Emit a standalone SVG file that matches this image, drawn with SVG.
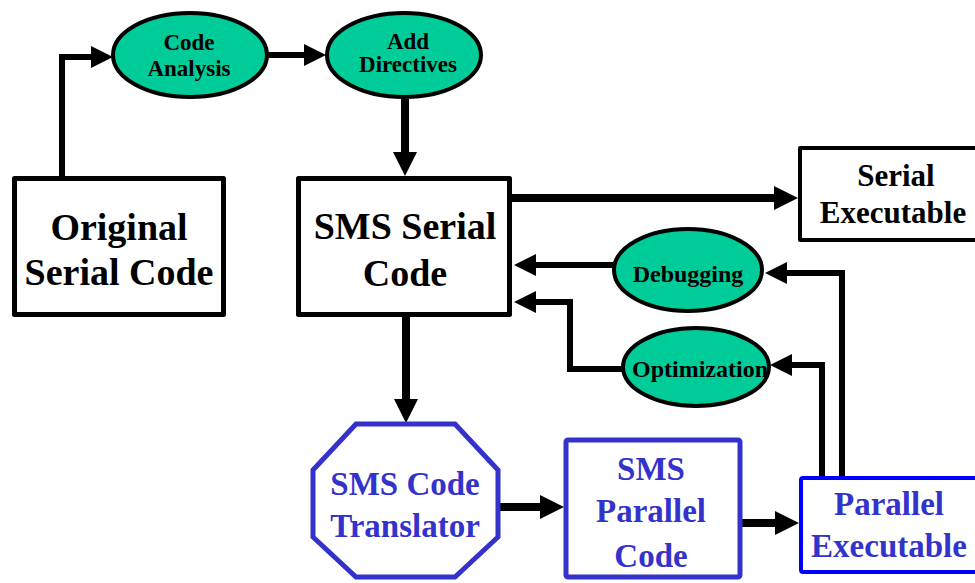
<svg xmlns="http://www.w3.org/2000/svg" width="975" height="583" viewBox="0 0 975 583">
<style>
.t{font-family:"Liberation Serif","Times New Roman",serif;font-weight:bold;text-anchor:middle}
.blk{fill:#000}
.blu{fill:#3333cc}
.box{fill:#fff;stroke:#000;stroke-linejoin:round}
.ell{fill:#00cc99;stroke:#000;stroke-width:4}
.c{fill:none;stroke:#000;stroke-width:6;stroke-linejoin:miter}
.ct{fill:none;stroke:#000;stroke-width:8}
</style>
<defs>
<marker id="ah" viewBox="0 0 22 22" refX="0" refY="11" markerWidth="22" markerHeight="22" markerUnits="userSpaceOnUse" orient="auto">
<path d="M0,0 L22,11 L0,22 z" fill="#000"/>
</marker>
<marker id="ahL" viewBox="0 0 24 24" refX="0" refY="12" markerWidth="24" markerHeight="24" markerUnits="userSpaceOnUse" orient="auto">
<path d="M0,0 L24,12 L0,24 z" fill="#000"/>
</marker>
</defs>
<g id="connectors">
<path class="c" d="M62,176 V57 H91" marker-end="url(#ah)"/>
<path class="c" d="M268,55 H304" marker-end="url(#ah)"/>
<path class="ct" d="M405,99 V152" marker-end="url(#ahL)"/>
<path class="ct" d="M512,198 H774" marker-end="url(#ahL)"/>
<path class="c" d="M613,265 H536" marker-end="url(#ah)"/>
<path class="c" d="M622,369 H570 V302 H536" marker-end="url(#ah)"/>
<path class="c" d="M842,477 V273 H787" marker-end="url(#ah)"/>
<path class="c" d="M822,477 V365 H792" marker-end="url(#ah)"/>
<path class="ct" d="M406,317 V399" marker-end="url(#ahL)"/>
<path class="ct" d="M500,507 H540" marker-end="url(#ahL)"/>
<path class="ct" d="M742,523 H775" marker-end="url(#ahL)"/>
</g>
<g id="code-analysis">
<ellipse class="ell" cx="190" cy="55" rx="77" ry="42"/>
<text class="t blk" x="189" y="50" font-size="23">Code</text>
<text class="t blk" x="189" y="76" font-size="23">Analysis</text>
</g>
<g id="add-directives">
<ellipse class="ell" cx="404" cy="55" rx="77" ry="42"/>
<text class="t blk" x="408" y="49" font-size="23">Add</text>
<text class="t blk" x="408" y="72" font-size="23">Directives</text>
</g>
<g id="original-serial-code">
<rect class="box" x="14.5" y="178.5" width="209" height="136" stroke-width="5"/>
<text class="t blk" x="119" y="240" font-size="38">Original</text>
<text class="t blk" x="119" y="285" font-size="38">Serial Code</text>
</g>
<g id="sms-serial-code">
<rect class="box" x="298.5" y="178.5" width="211" height="136" stroke-width="5"/>
<text class="t blk" x="405" y="239" font-size="38">SMS Serial</text>
<text class="t blk" x="405" y="286" font-size="38">Code</text>
</g>
<g id="serial-executable">
<rect class="box" x="800" y="148" width="200" height="92" stroke-width="4"/>
<text class="t blk" x="896" y="186" font-size="31">Serial</text>
<text class="t blk" x="893" y="223" font-size="31">Executable</text>
</g>
<g id="debugging">
<ellipse class="ell" cx="688" cy="270" rx="74" ry="41"/>
<text class="t blk" x="688" y="282" font-size="24">Debugging</text>
</g>
<g id="optimization">
<ellipse class="ell" cx="696" cy="367" rx="73" ry="39"/>
<text class="t blk" x="700" y="377" font-size="24">Optimization</text>
</g>
<g id="sms-code-translator">
<polygon points="356,424 455,424 498,470 498,537 455,577 356,577 313,537 313,470" fill="#fff" stroke="#3333cc" stroke-width="5"/>
<text class="t blu" x="405" y="495" font-size="33">SMS Code</text>
<text class="t blu" x="405" y="537" font-size="33">Translator</text>
</g>
<g id="sms-parallel-code">
<rect x="566" y="440" width="174" height="137" rx="2" fill="#fff" stroke="#3333cc" stroke-width="5"/>
<text class="t blu" x="651" y="480" font-size="33">SMS</text>
<text class="t blu" x="651" y="522" font-size="33">Parallel</text>
<text class="t blu" x="651" y="567" font-size="33">Code</text>
</g>
<g id="parallel-executable">
<rect x="801" y="478" width="200" height="94" rx="2" fill="#fff" stroke="#0000ff" stroke-width="4"/>
<text class="t blu" x="889" y="515" font-size="33">Parallel</text>
<text class="t blu" x="889" y="557" font-size="33">Executable</text>
</g>
</svg>
